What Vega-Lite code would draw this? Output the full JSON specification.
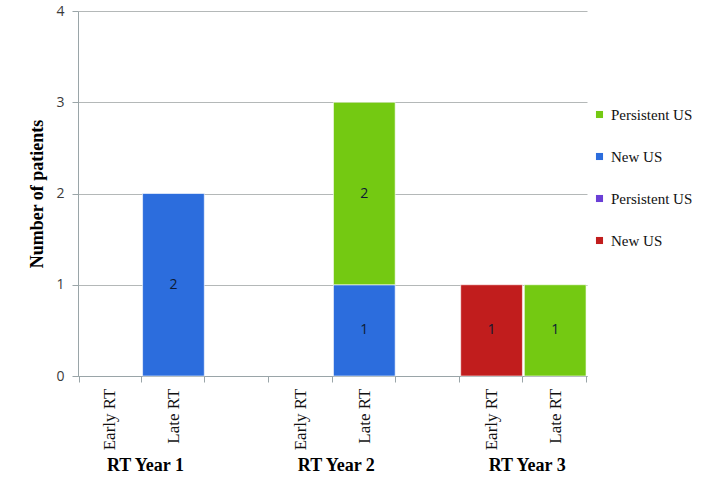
{
  "$schema": "https://vega.github.io/schema/vega-lite/v6.json",
  "width": 509,
  "height": 365,
  "autosize": "none",
  "padding": {"left": 78, "top": 11, "right": 116, "bottom": 120},
  "background": "white",
  "config": {"view": {"stroke": null}},
  "data": {"values": [
    {"slot": "Late RT", "series": "New US\u200b", "n": 2},
    {"slot": "Late RT\u200b", "series": "New US\u200b", "n": 1},
    {"slot": "Late RT\u200b", "series": "Persistent US\u200b", "n": 2},
    {"slot": "Early RT\u200b\u200b", "series": "New US", "n": 1},
    {"slot": "Late RT\u200b\u200b", "series": "Persistent US\u200b", "n": 1}
  ]},
  "layer": [
    {
      "mark": {"type": "bar", "stroke": "white", "strokeWidth": 1, "strokeOpacity": 0.6},
      "encoding": {
        "x": {
          "field": "slot", "type": "nominal",
          "scale": {"domain": ["Early RT", "Late RT", "\u200b", "Early RT\u200b", "Late RT\u200b", "\u200b\u200b", "Early RT\u200b\u200b", "Late RT\u200b\u200b"], "paddingInner": 0.03, "paddingOuter": 0.015},
          "axis": {
            "title": null,
            "tickBand": "extent",
            "labelAngle": -90,
            "labelAlign": "right",
            "labelBaseline": "middle",
            "labelFont": "Liberation Serif",
            "labelFontSize": 17,
            "labelColor": "#111111",
            "labelPadding": 6,
            "domainColor": "#9aa5a8",
            "tickColor": "#9aa5a8",
            "tickSize": 6,
            "grid": false
          }
        },
        "y": {
          "field": "n", "type": "quantitative", "stack": "zero",
          "scale": {"domain": [0, 4], "nice": false},
          "axis": {
            "title": "Number of patients",
            "titleFont": "Liberation Serif",
            "titleFontSize": 18,
            "titleFontWeight": "bold",
            "titleColor": "#000000",
            "titlePadding": 9,
            "values": [0, 1, 2, 3, 4],
            "format": "d",
            "labelFont": "Open Sans",
            "labelFontSize": 14,
            "labelColor": "#3a3a3a",
            "labelPadding": 8,
            "domainColor": "#9aa5a8",
            "tickColor": "#9aa5a8",
            "tickSize": 6,
            "gridColor": "#b4b8b8",
            "gridWidth": 1
          }
        },
        "order": {"field": "series", "type": "nominal", "sort": "ascending"},
        "color": {
          "field": "series", "type": "nominal",
          "scale": {
            "domain": ["Persistent US\u200b", "New US\u200b", "Persistent US", "New US"],
            "range": ["#74c912", "#2c6ddd", "#6a3fd6", "#c11d1d"]
          },
          "legend": {
            "title": null,
            "orient": "none",
            "legendX": 514,
            "legendY": 96,
            "symbolType": "square",
            "symbolSize": 50,
            "symbolStrokeWidth": 0,
            "labelFont": "Liberation Serif",
            "labelFontSize": 15,
            "labelColor": "#111111",
            "labelOffset": 4,
            "rowPadding": 26,
            "values": ["Persistent US\u200b", "New US\u200b", "Persistent US", "New US"]
          }
        }
      }
    },
    {
      "transform": [
        {"stack": "n", "groupby": ["slot"], "sort": [{"field": "series", "order": "ascending"}], "as": ["y0", "y1"]},
        {"filter": "datum.n == 1"}
      ],
      "mark": {"type": "text", "font": "Open Sans", "fontSize": 14, "color": "#0c1a33", "baseline": "middle", "dy": 45.6},
      "encoding": {
        "x": {"field": "slot", "type": "nominal"},
        "y": {"field": "y1", "type": "quantitative"},
        "text": {"field": "n", "type": "quantitative"}
      }
    },
    {
      "transform": [
        {"stack": "n", "groupby": ["slot"], "sort": [{"field": "series", "order": "ascending"}], "as": ["y0", "y1"]},
        {"filter": "datum.n == 2"}
      ],
      "mark": {"type": "text", "font": "Open Sans", "fontSize": 14, "color": "#0c1a33", "baseline": "middle", "dy": 91.25},
      "encoding": {
        "x": {"field": "slot", "type": "nominal"},
        "y": {"field": "y1", "type": "quantitative"},
        "text": {"field": "n", "type": "quantitative"}
      }
    },
    {
      "data": {"values": [
        {"slot": "Late RT", "label": "RT Year 1"},
        {"slot": "Late RT\u200b", "label": "RT Year 2"},
        {"slot": "Late RT\u200b\u200b", "label": "RT Year 3"}
      ]},
      "mark": {"type": "text", "font": "Liberation Serif", "fontSize": 18, "fontWeight": "bold", "color": "#000000", "baseline": "middle", "dx": -28},
      "encoding": {
        "x": {"field": "slot", "type": "nominal"},
        "y": {"datum": -0.99, "type": "quantitative"},
        "text": {"field": "label"}
      }
    }
  ]
}
